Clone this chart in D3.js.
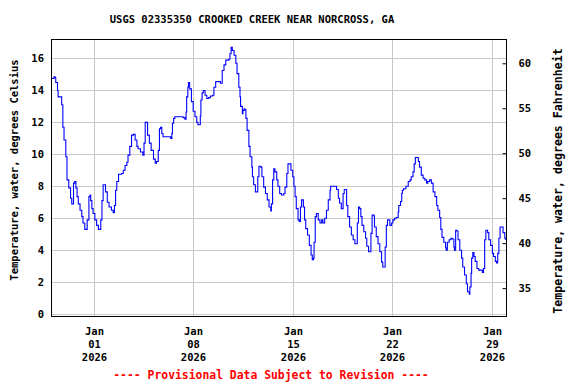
<!DOCTYPE html>
<html><head><meta charset="utf-8">
<script src="https://cdn.jsdelivr.net/npm/d3@7"></script>
<style>body{margin:0;background:#fff}svg{display:block}text{font-family:"DejaVu Sans Mono",monospace;font-weight:bold}</style>
</head><body><div id="chart"></div>
<script>
const titleText = "USGS 02335350 CROOKED CREEK NEAR NORCROSS, GA";
const footerText = "---- Provisional Data Subject to Revision ----";
const leftTitle = "Temperature, water, degrees Celsius";
const rightTitle = "Temperature, water, degrees Fahrenheit";
const startTime = "2025-12-29T00:00:00";
const spanDays = 32;
const xTickDates = ["2026-01-01", "2026-01-08", "2026-01-15", "2026-01-22", "2026-01-29"];
const xTickLines = [["Jan","01","2026"],["Jan","08","2026"],["Jan","15","2026"],["Jan","22","2026"],["Jan","29","2026"]];
const yTicksC = [0,2,4,6,8,10,12,14,16];
const yTicksF = [35,40,45,50,55,60];
const yDomainC = [-0.12, 17.22];
const yDomainF = [31.9, 62.7];
// hours since startTime
const hoursFromStart = [0,1,5,7,8,11,12,15,18,20,22,25,27,30,33,35,37,38,40,42,44,46,49,52,54,57,59,61,64,66,67,69,71,74,77,80,83,84,86,88,90,92,95,98,102,105,107,109,111,114,119,122,125,128,130,133,136,139,142,145,147,151,155,157,159,161,163,166,169,173,176,178,181,183,185,187,189,192,202,204,205,207,209,218,223,226,228,229,231,232,234,237,240,243,246,248,250,252,253,255,257,260,263,266,269,273,275,278,282,286,289,292,295,300,302,304,306,309,312,314,317,319,320,323,324,326,327,329,331,334,336,339,340,342,345,347,349,351,354,356,359,362,365,368,371,372,374,376,378,381,383,386,389,393,395,398,400,402,405,408,410,412,414,417,419,421,423,426,428,430,433,436,439,441,443,444,446,448,451,454,457,459,462,465,468,471,472,479,482,485,487,490,492,493,495,496,499,501,504,507,510,513,514,517,519,521,523,525,528,531,533,536,539,540,542,545,546,549,552,555,558,560,562,564,566,568,570,572,575,577,580,583,586,587,590,592,593,595,599,603,606,608,611,613,615,618,620,622,625,628,631,634,636,639,642,645,648,651,653,656,658,660,663,666,667,669,672,675,677,680,681,683,685,687,690,693,695,698,701,703,706,707,709,710,712,714,716,719,722,726,728,730,732,734,737,739,742,745,747,750,752,754,756,758,761,763,766,767];
const tempC = [14.75,14.75,14.85,14.8,14.5,14.0,13.6,13.6,13.1,11.7,10.9,9.85,8.4,7.9,7.25,6.9,6.9,8.2,8.3,7.9,7.35,6.9,6.5,6.1,5.7,5.3,5.3,5.9,7.35,7.45,7.1,6.6,6.3,5.9,5.55,5.3,5.3,5.9,7.1,8.1,8.1,7.65,7.0,6.7,6.5,6.35,6.8,7.75,8.3,8.75,8.8,9.0,9.3,9.5,9.95,10.5,11.2,11.25,10.9,10.5,10.35,10.15,9.95,10.7,12.0,12.0,11.2,10.7,10.25,9.7,9.45,9.55,10.25,11.6,11.7,11.3,11.1,11.1,11.0,11.3,11.95,12.25,12.35,12.35,12.3,12.2,12.65,13.6,14.2,14.5,14.1,13.3,12.7,12.35,12.0,11.85,11.85,12.4,13.4,13.85,14.0,13.7,13.5,13.55,13.65,13.7,14.2,14.55,14.55,14.45,15.25,15.6,15.9,15.95,16.3,16.7,16.5,16.2,15.7,15.05,14.2,13.6,13.0,12.55,12.75,12.85,12.8,12.25,11.5,10.5,9.85,9.2,8.6,8.1,7.65,7.65,8.6,9.25,9.2,8.6,7.95,7.55,7.15,6.7,6.45,6.9,8.4,9.1,8.9,8.4,8.0,7.55,7.45,7.55,7.95,8.8,9.4,9.4,9.0,8.6,8.0,7.35,6.6,5.9,5.8,6.7,7.15,6.7,5.9,5.35,4.95,4.3,3.7,3.4,3.5,4.5,6.1,6.3,5.9,5.7,5.9,5.7,6.0,6.5,7.15,7.75,8.0,8.0,7.8,7.25,6.95,6.6,6.6,7.55,7.8,7.8,6.8,6.1,5.45,4.95,4.65,4.4,4.4,5.7,6.7,6.6,6.1,5.55,5.15,4.75,4.25,3.9,3.9,5.05,6.2,6.15,5.45,4.85,4.4,3.9,3.25,2.95,2.95,4.2,5.55,5.9,5.9,5.55,5.7,5.9,6.0,6.05,6.4,6.8,7.05,7.55,7.75,7.85,8.0,8.3,8.4,8.6,8.9,9.4,9.8,9.8,9.55,9.2,8.7,8.5,8.4,8.2,8.3,8.4,8.2,7.65,7.35,6.8,6.5,6.05,5.3,4.8,4.5,4.15,4.0,4.5,4.65,4.75,4.7,4.2,4.0,5.25,5.2,4.65,4.0,3.5,2.95,2.45,1.9,1.4,1.25,1.7,2.55,3.5,3.85,3.6,3.3,2.85,2.75,2.75,2.6,2.85,4.65,5.25,5.1,4.65,4.3,3.8,3.6,3.3,3.2,3.8,4.75,5.45,5.45,5.1,4.75,4.65];

const W = 576, H = 384;
const plot = {left: 51, right: 506, top: 39, bottom: 316};
const svg = d3.select("#chart").append("svg").attr("width", W).attr("height", H);
const parse = d3.isoParse;
const t0 = parse(startTime);
const x = d3.scaleTime().domain([t0, d3.timeDay.offset(t0, spanDays)]).range([plot.left, plot.right]);
const y = d3.scaleLinear().domain(yDomainC).range([plot.bottom, plot.top]);
const yF = d3.scaleLinear().domain(yDomainF).range([plot.bottom, plot.top]);
const data = hoursFromStart.map((h, i) => ({t: d3.timeHour.offset(t0, h), v: tempC[i]}));
const fs = "10.5px";

// grid
const g = svg.append("g");
g.selectAll("line.hy").data(yTicksC).join("line")
  .attr("x1", plot.left).attr("x2", plot.right)
  .attr("y1", d => Math.round(y(d)) + 0.5).attr("y2", d => Math.round(y(d)) + 0.5)
  .attr("stroke", "#c8c8c8").attr("stroke-width", 1);
g.selectAll("line.vx").data(xTickDates).join("line")
  .attr("x1", d => Math.round(x(parse(d))) + 0.5).attr("x2", d => Math.round(x(parse(d))) + 0.5)
  .attr("y1", plot.top).attr("y2", plot.bottom)
  .attr("stroke", "#c8c8c8").attr("stroke-width", 1);

// line
svg.append("path").datum(data)
  .attr("fill", "none").attr("stroke", "#0000ff").attr("stroke-width", 1.1)
  .attr("d", d3.line().x(d => x(d.t)).y(d => y(d.v)).curve(d3.curveStepAfter));

// border
svg.append("rect").attr("x", plot.left + 0.5).attr("y", plot.top + 0.5)
  .attr("width", plot.right - plot.left).attr("height", plot.bottom - plot.top)
  .attr("fill", "none").attr("stroke", "#000").attr("stroke-width", 1);

// left axis
const la = svg.append("g").attr("transform", `translate(${plot.left},0)`)
  .call(d3.axisLeft(y).tickValues(yTicksC).tickSize(0).tickPadding(7));
la.select(".domain").remove();
la.selectAll("text").attr("font-size", fs).attr("font-family", null).attr("fill", "#000");

// right axis
const ra = svg.append("g").attr("transform", `translate(${plot.right + 0.5},0)`)
  .call(d3.axisRight(yF).tickValues(yTicksF).tickSizeInner(-4).tickSizeOuter(0).tickPadding(12));
ra.select(".domain").remove();
ra.selectAll("line").attr("stroke", "#000");
ra.selectAll("text").attr("font-size", fs).attr("font-family", null).attr("fill", "#000");

// bottom labels
const bx = svg.append("g");
xTickDates.forEach((d, i) => {
  const t = bx.append("text").attr("x", Math.round(x(parse(d))) + 0.5).attr("text-anchor", "middle")
    .attr("font-size", fs);
  xTickLines[i].forEach((s, j) => t.append("tspan").attr("x", Math.round(x(parse(d))) + 0.5).attr("y", 335 + j * 13).text(s));
});

// titles
svg.append("text").attr("x", 252).attr("y", 23).attr("text-anchor", "middle").attr("font-size", fs).text(titleText);
svg.append("text").attr("transform", "translate(18,170) rotate(-90)").attr("text-anchor", "middle").attr("font-size", fs).text(leftTitle);
svg.append("text").attr("transform", "translate(562,181) rotate(-90)").attr("text-anchor", "middle").attr("font-size", "11.6px").text(rightTitle);
svg.append("text").attr("x", 271).attr("y", 379).attr("text-anchor", "middle").attr("font-size", "11.4px").attr("fill", "#ff0000").text(footerText);
</script></body></html>
